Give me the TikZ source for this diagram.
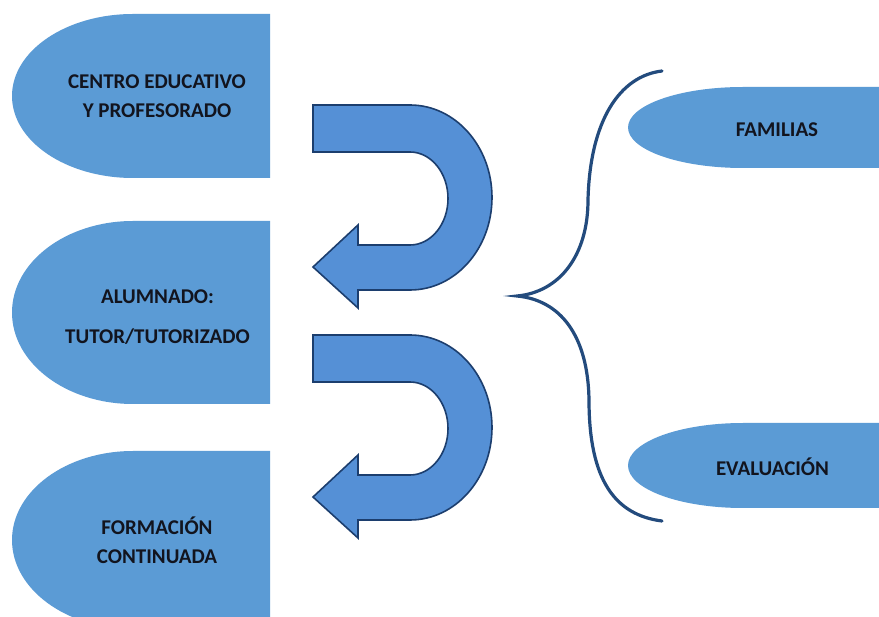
\documentclass[tikz,border=0pt]{standalone}
\usepackage{fontspec}
\setmainfont{Carlito}
\definecolor{boxblue}{RGB}{91,155,213}
\definecolor{arrowblue}{RGB}{85,144,214}
\definecolor{arrowline}{RGB}{28,62,110}
\definecolor{bracecol}{RGB}{35,75,125}
\definecolor{txt}{RGB}{18,20,30}
\begin{document}
\begin{tikzpicture}[x=1pt,y=-1pt,
  shapefill/.style={fill=boxblue,draw=none},
  uarrow/.style={fill=arrowblue,draw=arrowline,line width=1.6pt,line join=miter},
  lbl/.style={font=\bfseries\fontsize{21}{29}\selectfont,text=txt,align=center,inner sep=0pt},
  bracestyle/.style={draw=bracecol,line width=3.2pt,line cap=round}]
\useasboundingbox (0,0) rectangle (879,617);
\clip (0,0) rectangle (879,617);
\fill[white] (0,0) rectangle (879,617);
% left boxes
\path[shapefill] (270,14) -- (133,14) arc[start angle=-90,end angle=-270,x radius=121,y radius=82] -- (270,178) -- cycle;
\path[shapefill] (270,221) -- (133,221) arc[start angle=-90,end angle=-270,x radius=121,y radius=91.5] -- (270,404) -- cycle;
\path[shapefill] (270,451) -- (133,451) arc[start angle=-90,end angle=-270,x radius=121,y radius=89] -- (270,629) -- cycle;
% right shapes
\path[shapefill] (900,87) -- (743,87) arc[start angle=-90,end angle=-270,x radius=115,y radius=40.5] -- (900,168) -- cycle;
\path[shapefill] (900,423) -- (743,423) arc[start angle=-90,end angle=-270,x radius=115,y radius=42.5] -- (900,508) -- cycle;
% U-turn arrows
\foreach \dy in {0,230}{
\draw[uarrow] (313,105+\dy) -- (410,105+\dy)
  arc[start angle=-90,end angle=90,x radius=82,y radius=92.5]
  -- (358,290+\dy) -- (358,308+\dy) -- (313,267+\dy) -- (358,225+\dy) -- (358,245+\dy) -- (410,245+\dy)
  arc[start angle=90,end angle=-90,x radius=38,y radius=46.5]
  -- (313,152+\dy) -- cycle;
}
% brace
\coordinate (btop) at (662,71);
\coordinate (btip) at (517,296);
\coordinate (bbot) at (662,521);
\draw[bracestyle] (btop) .. controls (620,76) and (590,120) .. (588,200)
  .. controls (588,255) and (560,292) .. (btip)
  .. controls (560,300) and (588,335) .. (589,400)
  .. controls (589,480) and (615,515) .. (bbot);
% labels
\node[lbl] (centro) at (157,96.5) {CENTRO EDUCATIVO\\Y PROFESORADO};
\node[lbl,align=center] (alumnado) at (157.5,317) {ALUMNADO:\\[11pt]TUTOR/TUTORIZADO};
\node[lbl] (formacion) at (157,540) {FORMACIÓN\\CONTINUADA};
\node[lbl] (familias) at (777,130) {FAMILIAS};
\node[lbl] (evaluacion) at (772.5,467) {EVALUACIÓN};
\end{tikzpicture}
\end{document}
